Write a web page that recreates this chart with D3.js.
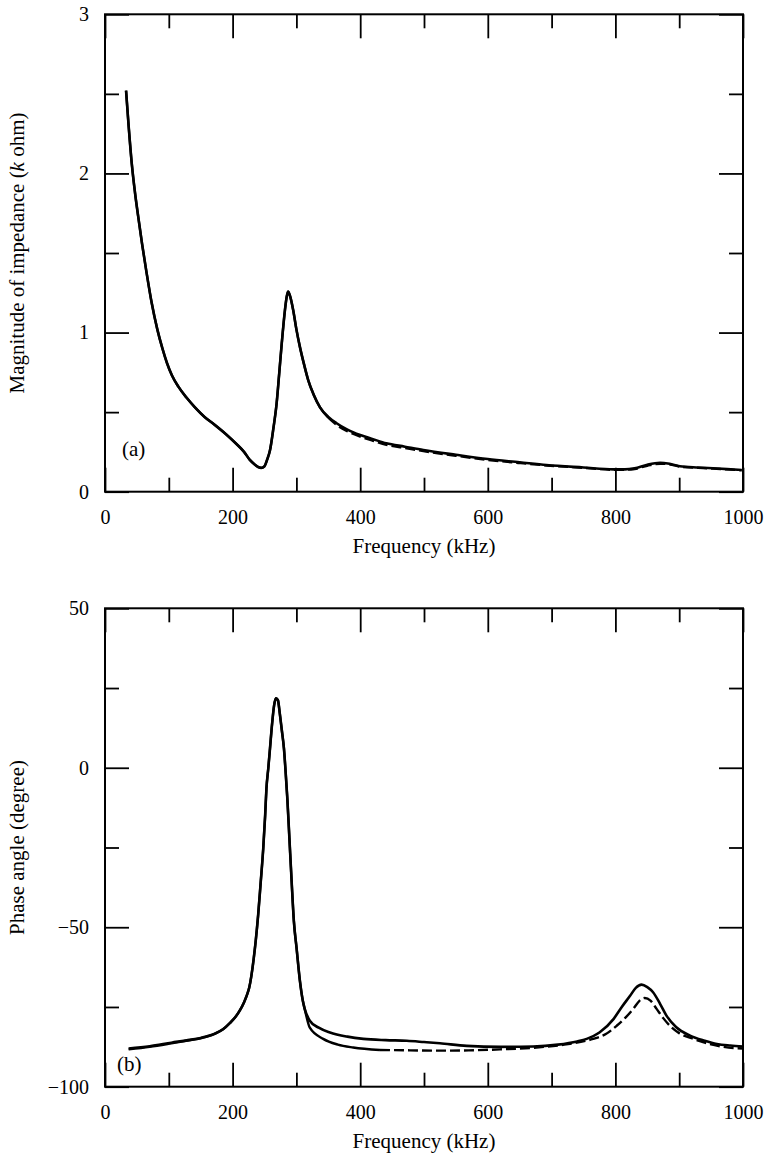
<!DOCTYPE html>
<html>
<head>
<meta charset="utf-8">
<script src="https://cdn.jsdelivr.net/npm/d3@7"></script>
<style>
  body { margin: 0; background: #fff; }
  svg text { font-family: "Liberation Serif", "Times New Roman", "DejaVu Serif", serif; }
</style>
</head>
<body>
<div id="container"></div>
<script>
// (a) magnitude of impedance, k ohm
var magFreq   = [33, 37, 42, 47, 52, 58, 65, 73, 82, 90, 97, 105, 115, 128, 141, 156, 172, 190, 206, 218, 227, 235, 240, 245, 250, 254, 258.6, 264, 269, 273, 277, 282, 285, 287, 290, 295, 300, 305.5, 312, 318.6, 327, 337, 350, 363, 380, 400, 420, 441, 470, 499, 550, 600, 650, 692, 750, 797, 815, 830, 850, 870, 885, 901, 930, 953, 975, 998]
var magSolid  = [2.52, 2.30, 2.06, 1.88, 1.73, 1.56, 1.38, 1.19, 1.02, 0.9, 0.81, 0.73, 0.66, 0.59, 0.53, 0.47, 0.42, 0.36, 0.30, 0.25, 0.2, 0.17, 0.155, 0.15, 0.16, 0.2, 0.26, 0.4, 0.555, 0.74, 0.93, 1.14, 1.23, 1.257, 1.23, 1.14, 1.02, 0.91, 0.80, 0.70, 0.61, 0.53, 0.47, 0.43, 0.39, 0.356, 0.33, 0.304, 0.283, 0.262, 0.232, 0.205, 0.185, 0.168, 0.152, 0.14, 0.14, 0.147, 0.170, 0.182, 0.175, 0.16, 0.152, 0.147, 0.142, 0.136]
var magDashed = [2.52, 2.30, 2.06, 1.88, 1.73, 1.56, 1.38, 1.19, 1.02, 0.9, 0.81, 0.73, 0.66, 0.59, 0.53, 0.47, 0.42, 0.36, 0.30, 0.25, 0.2, 0.17, 0.155, 0.15, 0.16, 0.2, 0.26, 0.4, 0.555, 0.74, 0.93, 1.14, 1.23, 1.257, 1.23, 1.14, 1.02, 0.91, 0.80, 0.70, 0.61, 0.53, 0.465, 0.42, 0.38, 0.346, 0.32, 0.295, 0.275, 0.255, 0.226, 0.2, 0.18, 0.165, 0.15, 0.138, 0.138, 0.143, 0.163, 0.176, 0.172, 0.158, 0.15, 0.145, 0.14, 0.135]

// (b) phase angle, degree
var phFreq    = [37, 70, 104, 130, 150, 172, 185, 196, 205, 211.6, 218, 222, 226, 233, 240, 244, 248, 251, 253, 256, 258.6, 262, 265, 268, 271, 274, 277, 280.5, 283, 285.8, 289, 292.6, 296, 300.4, 305.6, 310, 313, 321, 335, 352.6, 380, 405, 440, 473, 500, 525, 567, 620, 671, 710, 740, 755, 775, 797, 810, 823, 832, 841, 850, 859, 870, 880, 895, 917, 940, 959, 980, 1000]
var phSolid   = [-88, -87.3, -86.2, -85.4, -84.7, -83.4, -82, -80, -78, -76, -73.5, -71.5, -69, -60, -46.3, -36, -25.4, -15, -6.6, 0, 6, 14, 19.5, 21.8, 21.2, 17, 12, 6, -1, -9.7, -22, -35.9, -48, -56.8, -67, -73, -75.6, -79.3, -81.5, -83, -84.3, -85, -85.4, -85.6, -86, -86.4, -87.2, -87.5, -87.4, -86.8, -85.8, -85, -83, -78.8, -75, -71.5, -69, -68, -68.8, -70.4, -74, -77.7, -81.3, -84, -85.6, -86.6, -87.1, -87.4]
var phDFreq   = [37, 70, 104, 130, 150, 172, 185, 196, 205, 211.6, 218, 222, 226, 233, 240, 244, 248, 251, 253, 256, 258.6, 262, 265, 268, 271, 274, 277, 280.5, 283, 285.8, 289, 292.6, 296, 300.4, 305.6, 310, 313, 321, 342, 365, 389, 431, 478, 525, 570, 619, 670, 723, 765, 785, 802, 815, 828, 838, 846, 855, 864.6, 875, 885.5, 900, 922, 950, 985, 1000]
var phDashed  = [-88.3, -87.5, -86.4, -85.5, -84.8, -83.4, -82, -80, -78, -76, -73.5, -71.5, -69, -60, -46.3, -36, -25.4, -15, -6.6, 0, 6, 14, 19.5, 21.8, 21.2, 17, 12, 6, -1, -9.7, -22, -35.9, -48, -56.8, -67, -73, -75.6, -81.5, -85, -86.8, -87.7, -88.5, -88.6, -88.7, -88.6, -88.3, -87.8, -86.7, -85, -83.5, -80.9, -78.5, -75.6, -73, -72.2, -73, -75.6, -78.5, -80.9, -83.2, -85, -86.7, -87.9, -88]

var xTicksMajor = [0, 200, 400, 600, 800, 1000]
var xTicksMinor = [100, 300, 500, 700, 900]
var magTicksMajor = [0, 1, 2, 3]
var magTicksMinor = [0.5, 1.5, 2.5]
var phTicksMajor = [-100, -50, 0, 50]
var phTicksMinor = [-75, -25, 25]

var width = 767, height = 1157
var svg = d3.select("#container").append("svg")
  .attr("width", width)
  .attr("height", height)

var left = 105, right = 743
var serif = "Liberation Serif, Times New Roman, serif"
var tickFont = 20, titleFont = 21

function zip(xs, ys) {
  return xs.map((f, i) => ({f: f, v: ys[i]}))
}

function drawPanel(p) {
  var x = d3.scaleLinear().domain([0, 1000]).range([left, right])
  var y = d3.scaleLinear().domain(p.domain).range([p.bottom, p.top])
  var g = svg.append("g")

  // inward ticks on all four sides
  function ticks(axis, vals, size, transform, labels) {
    var a = g.append("g")
      .attr("transform", transform)
      .call(axis.tickValues(vals).tickSize(size).tickSizeOuter(0)
        .tickFormat(labels ? (d => d < 0 ? "\u2212" + Math.abs(d) : d) : ""))
    a.attr("font-family", serif)
    a.select(".domain").remove()
    a.selectAll("line").attr("stroke", "#000").attr("stroke-width", 1.8)
    a.selectAll("text").attr("font-size", tickFont).attr("fill", "#000")
    return a
  }
  var bx = ticks(d3.axisBottom(x), xTicksMajor, -24, "translate(0," + p.bottom + ")", true)
  bx.selectAll("text").attr("y", 18).attr("dy", "0.71em")
  ticks(d3.axisBottom(x), xTicksMinor, -14, "translate(0," + p.bottom + ")", false)
  ticks(d3.axisTop(x), xTicksMajor, -24, "translate(0," + p.top + ")", false)
  ticks(d3.axisTop(x), xTicksMinor, -14, "translate(0," + p.top + ")", false)
  var ly = ticks(d3.axisLeft(y), p.major, -24, "translate(" + left + ",0)", true)
  ly.selectAll("text").attr("x", -16)
  ticks(d3.axisLeft(y), p.minor, -14, "translate(" + left + ",0)", false)
  ticks(d3.axisRight(y), p.major, -24, "translate(" + right + ",0)", false)
  ticks(d3.axisRight(y), p.minor, -14, "translate(" + right + ",0)", false)

  g.append("rect")
    .attr("x", left).attr("y", p.top)
    .attr("width", right - left).attr("height", p.bottom - p.top)
    .attr("fill", "none").attr("stroke", "#000").attr("stroke-width", 2)

  var line = d3.line().curve(d3.curveMonotoneX).x(d => x(d.f)).y(d => y(d.v))

  var dashed = zip(p.dFreq, p.dashed)
  // dashed curve reads as solid where it hugs the other one
  var solidPart = dashed.filter(d => d.f <= p.dashStart)
  var dashPart = dashed.filter(d => d.f >= p.dashStart)
  g.append("path").attr("d", line(solidPart))
    .attr("fill", "none").attr("stroke", "#000").attr("stroke-width", 2.4)
  g.append("path").attr("d", line(dashPart))
    .attr("fill", "none").attr("stroke", "#000").attr("stroke-width", 2.4)
    .attr("stroke-dasharray", "10,4")

  g.append("path").attr("d", line(zip(p.freq, p.solid)))
    .attr("fill", "none").attr("stroke", "#000").attr("stroke-width", 2.6)
    .attr("stroke-linejoin", "round")

  g.append("text")
    .attr("x", p.tagX).attr("y", p.tagY)
    .attr("font-family", serif).attr("font-size", titleFont).text(p.tag)

  g.append("text")
    .attr("x", (left + right) / 2).attr("y", p.bottom + 61)
    .attr("text-anchor", "middle").attr("font-family", serif).attr("font-size", titleFont)
    .text("Frequency (kHz)")

  var yt = g.append("text")
    .attr("transform", "translate(24," + ((p.top + p.bottom) / 2) + ") rotate(-90)")
    .attr("text-anchor", "middle").attr("font-family", serif).attr("font-size", titleFont)
  p.ytitle.forEach(function (s) {
    yt.append("tspan").attr("font-style", s[1] ? "italic" : null).text(s[0])
  })
}

drawPanel({
  top: 14.3, bottom: 491.7, domain: [0, 3],
  major: magTicksMajor, minor: magTicksMinor,
  freq: magFreq, solid: magSolid, dFreq: magFreq, dashed: magDashed, dashStart: 350,
  tag: "(a)", tagX: 122, tagY: 456,
  ytitle: [["Magnitude of impedance (", false], ["k", true], [" ohm)", false]]
})

drawPanel({
  top: 608.3, bottom: 1086.7, domain: [-100, 50],
  major: phTicksMajor, minor: phTicksMinor,
  freq: phFreq, solid: phSolid, dFreq: phDFreq, dashed: phDashed, dashStart: 431,
  tag: "(b)", tagX: 117, tagY: 1071,
  ytitle: [["Phase angle (degree)", false]]
})
</script>
</body>
</html>
